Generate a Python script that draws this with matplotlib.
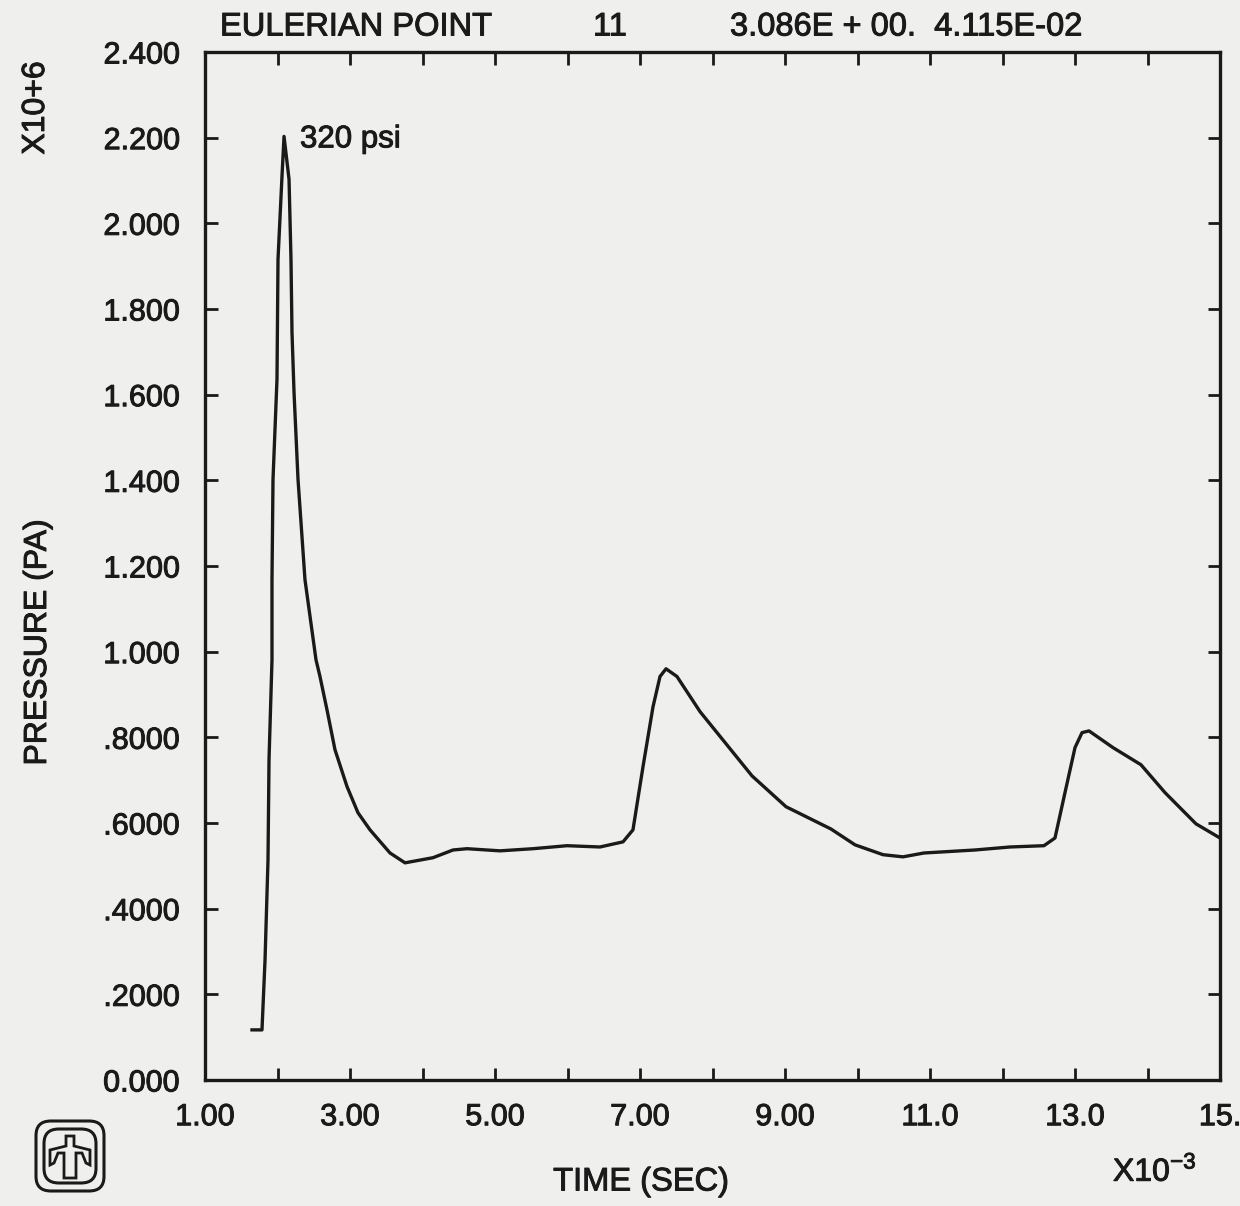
import matplotlib
matplotlib.use("Agg")
import matplotlib.pyplot as plt
import matplotlib.patheffects as pe
from matplotlib.patches import FancyBboxPatch, Polygon

# ---- data (time in 1e-3 s, pressure in 1e6 Pa) ----
time_ms = [1.648, 1.786, 1.828, 1.869, 1.883, 1.924, 1.924, 1.938, 1.993, 2.007, 2.062, 2.090,
           2.159, 2.186, 2.200, 2.228, 2.283, 2.379, 2.531, 2.586, 2.683, 2.793, 2.959, 3.110,
           3.276, 3.552, 3.759, 4.145, 4.421, 4.614, 5.069, 5.524, 5.993, 6.448, 6.766, 6.903,
           7.041, 7.179, 7.276, 7.359, 7.510, 7.828, 8.545, 9.014, 9.634, 9.966, 10.352, 10.628,
           10.917, 11.621, 12.103, 12.572, 12.724, 12.862, 13.000, 13.097, 13.193, 13.524, 13.910,
           14.241, 14.669, 15.0]
pressure_mpa = [0.117, 0.117, 0.280, 0.514, 0.748, 0.981, 1.168, 1.402, 1.636, 1.916, 2.110, 2.203,
                2.103, 1.916, 1.745, 1.605, 1.402, 1.168, 0.981, 0.942, 0.864, 0.771, 0.685, 0.624,
                0.584, 0.530, 0.507, 0.519, 0.537, 0.540, 0.535, 0.540, 0.547, 0.544, 0.556, 0.584,
                0.731, 0.871, 0.942, 0.960, 0.942, 0.860, 0.710, 0.638, 0.586, 0.549, 0.526, 0.521,
                0.530, 0.537, 0.544, 0.547, 0.565, 0.671, 0.776, 0.811, 0.815, 0.776, 0.736,
                0.671, 0.598, 0.565]

x_ticks = [1, 2, 3, 4, 5, 6, 7, 8, 9, 10, 11, 12, 13, 14, 15]
x_labels = ["1.00", "", "3.00", "", "5.00", "", "7.00", "", "9.00", "", "11.0", "", "13.0", "", "15."]
y_ticks = [0.0, 0.2, 0.4, 0.6, 0.8, 1.0, 1.2, 1.4, 1.6, 1.8, 2.0, 2.2, 2.4]
y_labels = ["0.000", ".2000", ".4000", ".6000", ".8000", "1.000", "1.200", "1.400",
            "1.600", "1.800", "2.000", "2.200", "2.400"]

W, H = 1240, 1206
INK = "#1a1a1a"
BG = "#efefed"
plt.rcParams['font.family'] = ['Liberation Sans', 'DejaVu Sans']
THICK = [pe.withStroke(linewidth=0.7, foreground=INK)]

fig = plt.figure(figsize=(W / 100, H / 100), dpi=100, facecolor=BG)

def fx(px):
    return px / W

def fy(py):
    return 1 - py / H

ax = fig.add_axes([fx(205), fy(1080), fx(1220) - fx(205), fy(52) - fy(1080)])
ax.set_facecolor(BG)
ax.plot(time_ms, pressure_mpa, color=INK, lw=2.4, solid_joinstyle='round')
ax.set_xlim(1, 15)
ax.set_ylim(0, 2.4)
ax.set_xticks(x_ticks)
ax.set_xticklabels(x_labels)
ax.set_yticks(y_ticks)
ax.set_yticklabels(y_labels)
for s in ax.spines.values():
    s.set_linewidth(2.4)
    s.set_color(INK)
ax.tick_params(direction='in', length=9, width=2, colors=INK, labelsize=22,
               top=True, right=True)
ax.tick_params(axis='x', pad=16)
ax.tick_params(axis='y', pad=18)
for lab in ax.get_xticklabels() + ax.get_yticklabels():
    lab.set_path_effects(THICK)

ax.text(2.31, 2.196, "320 psi", fontsize=22.5, color=INK, va='center', ha='left',
        path_effects=THICK)

# header
fig.text(fx(220), fy(27), "EULERIAN POINT", fontsize=23.5, color=INK, va='center', ha='left',
         path_effects=THICK)
fig.text(fx(593), fy(27), "11", fontsize=23.5, color=INK, va='center', ha='left',
         path_effects=THICK)
fig.text(fx(730), fy(27), "3.086E + 00.  4.115E-02", fontsize=23.5, color=INK, va='center',
         ha='left', path_effects=THICK)

# axis labels
fig.text(fx(36), fy(108), "X10+6", fontsize=23, color=INK, rotation=90, va='center', ha='center',
         path_effects=THICK)
fig.text(fx(38), fy(642), "PRESSURE (PA)", fontsize=23, color=INK, rotation=90, va='center',
         ha='center', path_effects=THICK)
fig.text(fx(641), fy(1182), "TIME (SEC)", fontsize=23.5, color=INK, va='center', ha='center',
         path_effects=THICK)
fig.text(fx(1113), fy(1172), r"X10$^{\mathregular{-3}}$", fontsize=23, color=INK, va='center',
         ha='left', path_effects=THICK)

# logo
for (x0, y0, x1, y1) in [(36, 1121, 104, 1191), (44, 1129, 96, 1183)]:
    box = FancyBboxPatch((fx(x0), fy(y1)), fx(x1) - fx(x0), fy(y0) - fy(y1),
                         boxstyle="round,pad=0,rounding_size=0.012",
                         transform=fig.transFigure, fill=False, ec=INK, lw=2.2)
    fig.patches.append(box)
bird_px = [(66, 1136), (74, 1136), (74, 1146), (90, 1150), (90, 1165), (86, 1163), (82, 1153),
           (76, 1153), (76, 1178), (64, 1178), (64, 1153), (58, 1153), (54, 1163), (50, 1165),
           (50, 1150), (66, 1146)]
bird = Polygon([(fx(a), fy(b)) for a, b in bird_px], closed=True, transform=fig.transFigure,
               fill=False, ec=INK, lw=2)
fig.patches.append(bird)

fig.savefig("out.png", dpi=100, facecolor=BG)
